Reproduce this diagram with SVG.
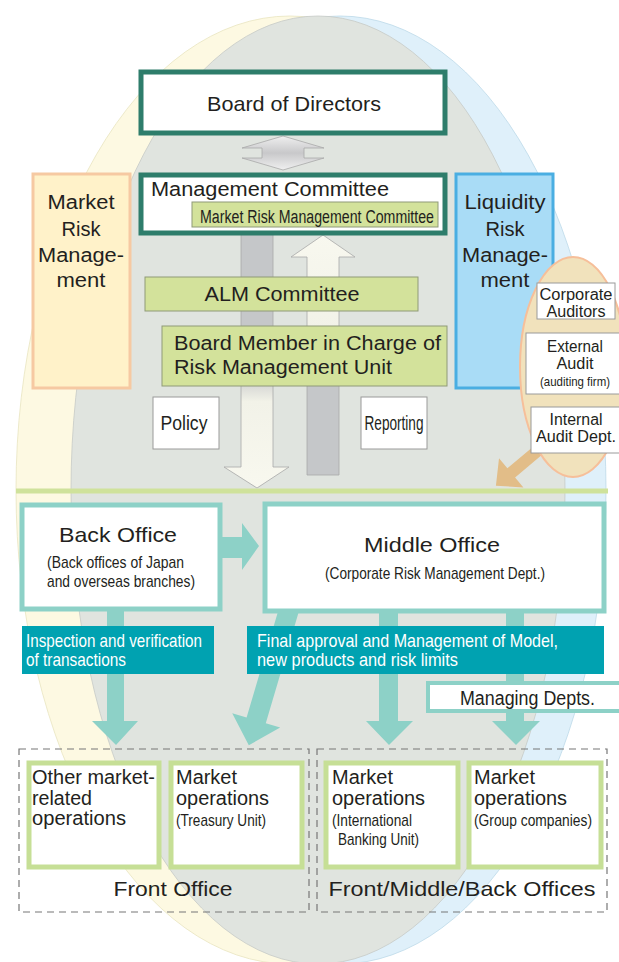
<svg xmlns="http://www.w3.org/2000/svg" width="619" height="962" viewBox="0 0 619 962">
<defs>
<style>
text{font-family:"Liberation Sans",Arial,sans-serif;fill:#231f20}
.big{font-size:21px}
.mid{font-size:20px}
.sm{font-size:17px}
.wt{fill:#ffffff;font-size:19px}
.gov{fill:#ffffff;stroke:#2e7d6b;stroke-width:5}
.grn{fill:#d3e29b;stroke:#8f9a78;stroke-width:1}
.wb{fill:#ffffff;stroke:#9a9a9a;stroke-width:1}
.tbox{fill:#ffffff;stroke:#8dd1c7;stroke-width:5}
.lab{fill:#00a2b1}
.fbox{fill:#ffffff;stroke:#c6df96;stroke-width:5}
.dash{fill:none;stroke:#777;stroke-width:1.2;stroke-dasharray:7 5}
.ta{fill:#8dd1c7}
</style>
<linearGradient id="gDown" x1="0" y1="234" x2="0" y2="488" gradientUnits="userSpaceOnUse">
<stop offset="0" stop-color="#c5c7c9"/><stop offset="0.55" stop-color="#c5c7c9"/><stop offset="0.66" stop-color="#f2f2e8"/><stop offset="1" stop-color="#f8f8ef"/>
</linearGradient>
<linearGradient id="gUp" x1="0" y1="234" x2="0" y2="476" gradientUnits="userSpaceOnUse">
<stop offset="0" stop-color="#f8f8ef"/><stop offset="0.4" stop-color="#f2f2e8"/><stop offset="0.52" stop-color="#c5c7c9"/><stop offset="1" stop-color="#c5c7c9"/>
</linearGradient>
<linearGradient id="gDbl" x1="0" y1="136" x2="0" y2="170" gradientUnits="userSpaceOnUse">
<stop offset="0" stop-color="#efefef"/><stop offset="0.5" stop-color="#c8c8ca"/><stop offset="1" stop-color="#f0f0f0"/>
</linearGradient>
</defs>

<g id="background">
<rect x="0" y="0" width="619" height="962" fill="#ffffff"/>
<ellipse cx="290" cy="490" rx="274" ry="474" fill="#fdf9e2" stroke="#e9e4c0" stroke-width="0.8"/>
<ellipse cx="340" cy="490" rx="266" ry="474" fill="#dff0fa" stroke="#bcd9e8" stroke-width="0.8"/>
<ellipse cx="318" cy="490" rx="247" ry="474" fill="#e0e4df" stroke="#c6cac6" stroke-width="0.8"/>
</g>

<g id="connectors">
<polygon points="283,136 324,148 304,148 304,158 324,158 283,170 242,158 262,158 262,148 242,148" fill="url(#gDbl)" stroke="#a8a8a8" stroke-width="0.8"/>
<polygon points="241,234 273,234 273,467 289,467 257,488 224,467 241,467" fill="url(#gDown)" stroke="#a8a8a8" stroke-width="0.8"/>
<polygon points="323,235 355,257 339,257 339,475 307,475 307,257 291,257" fill="url(#gUp)" stroke="#a8a8a8" stroke-width="0.8"/>
<line x1="16" y1="491" x2="608" y2="491" stroke="#cfe29b" stroke-width="5"/>
<polygon points="-6,0 6,0 6,48 19,48 0,68 -19,48 -6,48" fill="#e2bd88" transform="translate(548,442) rotate(50)"/>
<polygon points="218,537 242,537 242,523 259,546 242,570 242,558 218,558" class="ta"/>
<polygon points="107,608 124,608 124,721 138,721 116,745 92,721 107,721" class="ta"/>
<polygon points="-10,-6 10,-6 10,112 25,112 0,138 -25,112 -10,112" class="ta" transform="translate(288,613) rotate(16.5)"/>
<polygon points="379,608 398,608 398,721 413,721 389,745 366,721 379,721" class="ta"/>
<polygon points="506,608 524,608 524,721 540,721 516,745 492,721 506,721" class="ta"/>
</g>

<g id="board">
<rect x="141" y="72" width="304" height="61" class="gov"/>
<text x="294" y="110.5" class="big" text-anchor="middle" textLength="174" lengthAdjust="spacingAndGlyphs">Board of Directors</text>
</g>

<g id="management-committee">
<rect x="141" y="175" width="304" height="58" class="gov"/>
<text x="151" y="196" class="mid" textLength="238" lengthAdjust="spacingAndGlyphs">Management Committee</text>
<rect x="192" y="202" width="246" height="25" class="grn"/>
<text x="200" y="223" style="font-size:18px" textLength="234" lengthAdjust="spacingAndGlyphs">Market Risk Management Committee</text>
</g>

<g id="market-risk">
<rect x="33" y="174" width="97" height="214" fill="#fff2c9" stroke="#f6c9a2" stroke-width="3"/>
<text x="81" y="209" class="mid" text-anchor="middle" textLength="67" lengthAdjust="spacingAndGlyphs">Market</text>
<text x="81" y="235.5" class="mid" text-anchor="middle" textLength="39" lengthAdjust="spacingAndGlyphs">Risk</text>
<text x="81" y="262" class="mid" text-anchor="middle" textLength="86" lengthAdjust="spacingAndGlyphs">Manage-</text>
<text x="81" y="287" class="mid" text-anchor="middle" textLength="49" lengthAdjust="spacingAndGlyphs">ment</text>
</g>

<g id="liquidity-risk">
<rect x="456" y="174" width="97" height="214" fill="#a9dcf6" stroke="#4aaee2" stroke-width="3"/>
<text x="505" y="209" class="mid" text-anchor="middle" textLength="81" lengthAdjust="spacingAndGlyphs">Liquidity</text>
<text x="505" y="235.5" class="mid" text-anchor="middle" textLength="39" lengthAdjust="spacingAndGlyphs">Risk</text>
<text x="505" y="262" class="mid" text-anchor="middle" textLength="86" lengthAdjust="spacingAndGlyphs">Manage-</text>
<text x="505" y="287" class="mid" text-anchor="middle" textLength="49" lengthAdjust="spacingAndGlyphs">ment</text>
</g>

<g id="alm">
<rect x="145" y="277" width="273" height="34" class="grn"/>
<text x="282" y="301" class="mid" text-anchor="middle" textLength="155" lengthAdjust="spacingAndGlyphs">ALM Committee</text>
</g>

<g id="board-member">
<rect x="162" y="326" width="285" height="60" class="grn"/>
<text x="174" y="350" class="mid" textLength="267" lengthAdjust="spacingAndGlyphs">Board Member in Charge of</text>
<text x="174" y="374" class="mid" textLength="218" lengthAdjust="spacingAndGlyphs">Risk Management Unit</text>
</g>

<g id="policy">
<rect x="153" y="397" width="66" height="52" class="wb"/>
<text x="184" y="430" style="font-size:21px" text-anchor="middle" textLength="47" lengthAdjust="spacingAndGlyphs">Policy</text>
</g>

<g id="reporting">
<rect x="361" y="397" width="66" height="52" class="wb"/>
<text x="394" y="430" style="font-size:20px" text-anchor="middle" textLength="59" lengthAdjust="spacingAndGlyphs">Reporting</text>
</g>

<g id="audit">
<ellipse cx="573" cy="367" rx="53" ry="110" fill="#f1e2bc" stroke="#f6bf9a" stroke-width="2"/>
<rect x="537" y="283" width="78" height="36" class="wb"/>
<text x="576" y="300" style="font-size:16px" text-anchor="middle" textLength="73" lengthAdjust="spacingAndGlyphs">Corporate</text>
<text x="576" y="317" style="font-size:16px" text-anchor="middle" textLength="59" lengthAdjust="spacingAndGlyphs">Auditors</text>
<rect x="526" y="333" width="94" height="61" class="wb"/>
<text x="575" y="352" style="font-size:16px" text-anchor="middle" textLength="56" lengthAdjust="spacingAndGlyphs">External</text>
<text x="575" y="369" style="font-size:16px" text-anchor="middle" textLength="37" lengthAdjust="spacingAndGlyphs">Audit</text>
<text x="575" y="386" style="font-size:13px" text-anchor="middle" textLength="70" lengthAdjust="spacingAndGlyphs">(auditing firm)</text>
<rect x="531" y="407" width="89" height="46" class="wb"/>
<text x="576" y="425" style="font-size:16px" text-anchor="middle" textLength="53" lengthAdjust="spacingAndGlyphs">Internal</text>
<text x="576" y="442" style="font-size:16px" text-anchor="middle" textLength="80" lengthAdjust="spacingAndGlyphs">Audit Dept.</text>
</g>

<g id="back-office">
<rect x="22" y="505" width="198" height="104" class="tbox"/>
<text x="118" y="542" class="big" text-anchor="middle" textLength="118" lengthAdjust="spacingAndGlyphs">Back Office</text>
<text x="47" y="568" class="sm" textLength="137" lengthAdjust="spacingAndGlyphs">(Back offices of Japan</text>
<text x="47" y="587" class="sm" textLength="148" lengthAdjust="spacingAndGlyphs">and overseas branches)</text>
</g>

<g id="middle-office">
<rect x="265" y="504" width="339" height="107" class="tbox"/>
<text x="432" y="552" class="big" text-anchor="middle" textLength="136" lengthAdjust="spacingAndGlyphs">Middle Office</text>
<text x="435" y="579" class="sm" text-anchor="middle" textLength="220" lengthAdjust="spacingAndGlyphs">(Corporate Risk Management Dept.)</text>
</g>

<g id="label-inspection">
<rect x="22" y="626" width="192" height="48" class="lab"/>
<text x="26" y="647" class="wt" textLength="176" lengthAdjust="spacingAndGlyphs">Inspection and verification</text>
<text x="26" y="666" class="wt" textLength="100" lengthAdjust="spacingAndGlyphs">of transactions</text>
</g>

<g id="label-approval">
<rect x="247" y="626" width="357" height="48" class="lab"/>
<text x="257" y="647" class="wt" textLength="301" lengthAdjust="spacingAndGlyphs">Final approval and Management of Model,</text>
<text x="257" y="666" class="wt" textLength="201" lengthAdjust="spacingAndGlyphs">new products and risk limits</text>
</g>

<g id="managing-depts">
<rect x="428" y="683" width="196" height="28" fill="#ffffff" stroke="#8dd1c7" stroke-width="4"/>
<text x="460" y="705" style="font-size:20px" textLength="135" lengthAdjust="spacingAndGlyphs">Managing Depts.</text>
</g>

<g id="front-office">
<rect x="19" y="749" width="290" height="163" class="dash"/>
<g id="other-market">
<rect x="29" y="763" width="130" height="104" class="fbox"/>
<text x="32" y="784" class="mid" textLength="123" lengthAdjust="spacingAndGlyphs">Other market-</text>
<text x="32" y="804.5" class="mid" textLength="60" lengthAdjust="spacingAndGlyphs">related</text>
<text x="32" y="825" class="mid" textLength="94" lengthAdjust="spacingAndGlyphs">operations</text>
</g>
<g id="treasury">
<rect x="171" y="763" width="131" height="104" class="fbox"/>
<text x="176" y="784" class="mid" textLength="61" lengthAdjust="spacingAndGlyphs">Market</text>
<text x="176" y="804.5" class="mid" textLength="93" lengthAdjust="spacingAndGlyphs">operations</text>
<text x="176" y="826" class="sm" textLength="90" lengthAdjust="spacingAndGlyphs">(Treasury Unit)</text>
</g>
<text x="173" y="896" class="big" text-anchor="middle" textLength="119" lengthAdjust="spacingAndGlyphs">Front Office</text>
</g>

<g id="fmb-offices">
<rect x="317" y="749" width="290" height="163" class="dash"/>
<g id="international">
<rect x="326" y="763" width="132" height="104" class="fbox"/>
<text x="332" y="784" class="mid" textLength="61" lengthAdjust="spacingAndGlyphs">Market</text>
<text x="332" y="804.5" class="mid" textLength="93" lengthAdjust="spacingAndGlyphs">operations</text>
<text x="332" y="826" class="sm" textLength="80" lengthAdjust="spacingAndGlyphs">(International</text>
<text x="338" y="845" class="sm" textLength="81" lengthAdjust="spacingAndGlyphs">Banking Unit)</text>
</g>
<g id="group">
<rect x="469" y="763" width="132" height="104" class="fbox"/>
<text x="474" y="784" class="mid" textLength="61" lengthAdjust="spacingAndGlyphs">Market</text>
<text x="474" y="804.5" class="mid" textLength="93" lengthAdjust="spacingAndGlyphs">operations</text>
<text x="474" y="826" class="sm" textLength="118" lengthAdjust="spacingAndGlyphs">(Group companies)</text>
</g>
<text x="462" y="896" class="big" text-anchor="middle" textLength="267" lengthAdjust="spacingAndGlyphs">Front/Middle/Back Offices</text>
</g>
</svg>
